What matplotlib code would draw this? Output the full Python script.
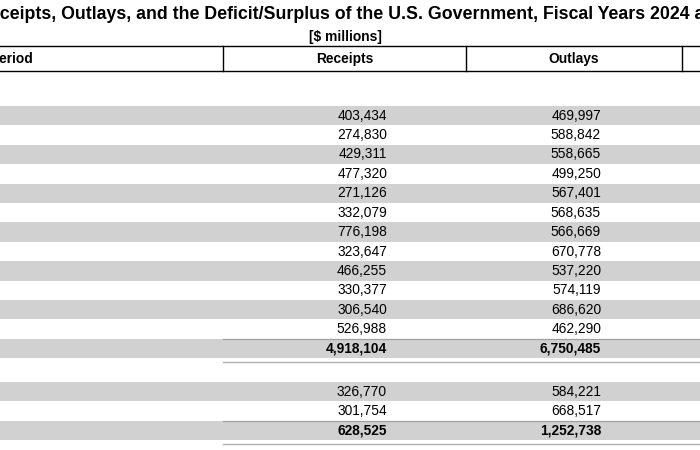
import matplotlib.pyplot as plt

plt.rcParams['font.family'] = ['Liberation Sans', 'DejaVu Sans']

# Table data ($ millions); period labels sit in the cropped-off part of the table
receipts_2024 = [403434, 274830, 429311, 477320, 271126, 332079,
                 776198, 323647, 466255, 330377, 306540, 526988, 4918104]
outlays_2024 = [469997, 588842, 558665, 499250, 567401, 568635,
                566669, 670778, 537220, 574119, 686620, 462290, 6750485]

receipts_2025 = [326770, 301754, 628525]
outlays_2025 = [584221, 668517, 1252738]

title = ('Receipts, Outlays, and the Deficit/Surplus of the U.S. Government, '
         'Fiscal Years 2024 and 2025')
subtitle = '[$ millions]'
headers = ['Period', 'Receipts', 'Outlays']

# layout (pixel units, figure is 700x450)
col_edges = [-160, 223, 466, 682]
row_h = 19.4
gray = '#d1d1d1'
fs = 9.9

fig = plt.figure(figsize=(7, 4.5), dpi=100)
ax = fig.add_axes([0, 0, 1, 1])
ax.set_xlim(0, 700)
ax.set_ylim(450, 0)
ax.axis('off')

ax.text(-23, 19, title, fontsize=12.8, fontweight='bold', va='baseline', ha='left')
ax.text(345, 37, subtitle, fontsize=fs, fontweight='bold', va='center', ha='center')

# header
ax.axhline(46, color='black', lw=1.0)
ax.axhline(71, color='black', lw=1.0)
for x in col_edges[1:]:
    ax.plot([x, x], [46, 71], color='black', lw=1.0)
ax.text(-9.5, 59, headers[0], fontsize=fs, fontweight='bold', va='center', ha='left')
ax.text((col_edges[1] + col_edges[2]) / 2, 59, headers[1], fontsize=fs,
        fontweight='bold', va='center', ha='center')
ax.text((col_edges[2] + col_edges[3]) / 2, 59, headers[2], fontsize=fs,
        fontweight='bold', va='center', ha='center')


def draw_block(y0, receipts, outlays):
    n = len(receipts)
    for i in range(n):
        top = y0 + i * row_h
        mid = top + row_h / 2
        if i % 2 == 0:
            ax.fill_between([-200, 900], top, top + row_h, color=gray, lw=0)
        total = i == n - 1
        w = 'bold' if total else 'normal'
        ax.text(col_edges[2] - 79, mid, f'{receipts[i]:,}', fontsize=fs,
                fontweight=w, va='center', ha='right')
        ax.text(col_edges[3] - 81, mid, f'{outlays[i]:,}', fontsize=fs,
                fontweight=w, va='center', ha='right')
        if total:
            ax.plot([col_edges[1], 900], [top, top], color='#a0a0a0', lw=0.9)
            ax.plot([col_edges[1], 900], [top + row_h + 3.5] * 2, color='#b0b0b0', lw=1.0)


draw_block(106, receipts_2024, outlays_2024)
draw_block(382, receipts_2025, outlays_2025)

fig.savefig('out.png', dpi=100)
